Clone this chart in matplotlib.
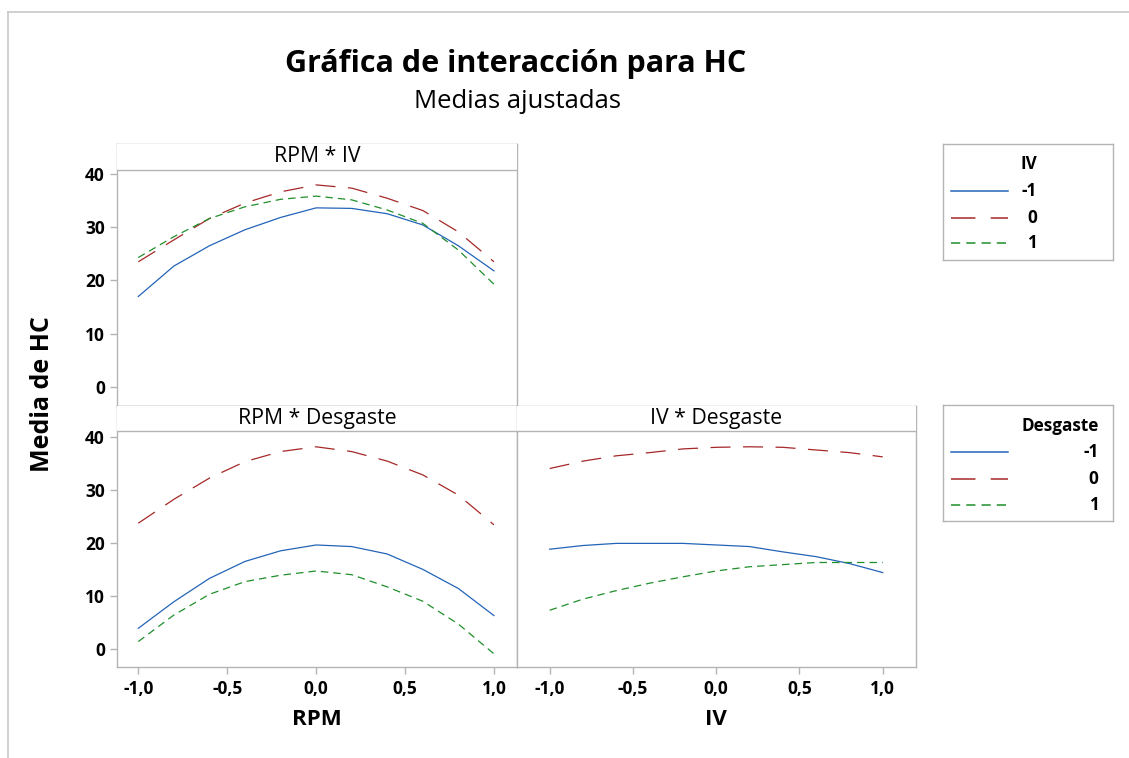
import numpy as np
import matplotlib
matplotlib.use("Agg")
import matplotlib.pyplot as plt
from matplotlib.patches import Rectangle
from matplotlib.lines import Line2D

plt.rcParams['font.family'] = ['Open Sans', 'DejaVu Sans']

# fitted means
x_levels = [-1.0, -0.8, -0.6, -0.4, -0.2, 0.0, 0.2, 0.4, 0.6, 0.8, 1.0]

# RPM * IV  (IV = -1, 0, 1)
rpm_iv_m1 = [17.0, 22.7, 26.5, 29.5, 31.8, 33.6, 33.5, 32.5, 30.4, 26.5, 21.8]
rpm_iv_0 = [23.5, 27.6, 31.6, 34.5, 36.6, 37.9, 37.3, 35.4, 33.1, 29.1, 23.5]
rpm_iv_1 = [24.3, 28.2, 31.6, 33.8, 35.2, 35.8, 35.1, 33.2, 30.7, 25.7, 19.3]

# RPM * Desgaste  (Desgaste = -1, 0, 1)
rpm_des_m1 = [3.9, 8.9, 13.3, 16.5, 18.5, 19.6, 19.3, 17.9, 15.0, 11.4, 6.3]
rpm_des_0 = [23.7, 28.2, 32.2, 35.3, 37.2, 38.1, 37.2, 35.4, 32.8, 29.0, 23.4]
rpm_des_1 = [1.4, 6.4, 10.3, 12.7, 13.9, 14.7, 14.0, 11.7, 9.0, 4.7, -0.9]

# IV * Desgaste
iv_des_m1 = [18.8, 19.5, 19.9, 19.9, 19.9, 19.6, 19.3, 18.3, 17.4, 16.1, 14.4]
iv_des_0 = [34.0, 35.4, 36.4, 37.0, 37.7, 38.0, 38.1, 38.0, 37.5, 37.0, 36.2]
iv_des_1 = [7.3, 9.4, 11.0, 12.4, 13.6, 14.7, 15.5, 15.9, 16.3, 16.3, 16.3]

level_labels = ['-1', '0', '1']
y_ticks = [0, 10, 20, 30, 40]
x_ticks = [-1.0, -0.5, 0.0, 0.5, 1.0]
x_ticklabels = ['-1,0', '-0,5', '0,0', '0,5', '1,0']

colors = ['#2364B8', '#A52828', '#1F8F2A']
styles = [dict(linestyle='-'),
          dict(linestyle=(0, (16, 10))),
          dict(linestyle=(0, (6, 4)))]
frame_col = '#b4b4b4'

W, H = 1129, 758
fig = plt.figure(figsize=(W / 100, H / 100), dpi=100)


def px_axes(left, top, right, bottom):
    return fig.add_axes([left / W, 1 - bottom / H, (right - left) / W, (bottom - top) / H])


def style_panel(ax, title, strip_px, panel_h):
    for s in ax.spines.values():
        s.set_color(frame_col)
        s.set_linewidth(1.0)
    ax.tick_params(colors=frame_col, labelcolor='black', length=5, width=1,
                   labelsize=12.5, pad=4)
    for lab in ax.get_xticklabels() + ax.get_yticklabels():
        lab.set_fontweight('bold')
    frac = strip_px / panel_h
    ax.add_patch(Rectangle((0, 1 - frac), 1, frac, transform=ax.transAxes,
                           facecolor='white', edgecolor='none', zorder=3))
    ax.add_line(Line2D([0, 1], [1 - frac, 1 - frac], transform=ax.transAxes,
                       color=frame_col, lw=1.0, zorder=4))
    ax.text(0.5, 1 - frac / 2, title, transform=ax.transAxes, ha='center',
            va='center', fontsize=15.3, zorder=5)


def draw(ax, series):
    for vals, c, st in zip(series, colors, styles):
        ax.plot(x_levels, vals, color=c, lw=0.9, **st)


# top left: RPM * IV
ax1 = px_axes(117.3, 144, 516.7, 405.7)
draw(ax1, [rpm_iv_m1, rpm_iv_0, rpm_iv_1])
ax1.set_xlim(-1.118, 1.128)
ax1.set_ylim(-3.45, 45.56)
ax1.set_yticks(y_ticks)
ax1.set_xticks([])
style_panel(ax1, 'RPM * IV', 26, 261.7)

# bottom left: RPM * Desgaste
ax2 = px_axes(117.3, 405.7, 516.7, 667)
draw(ax2, [rpm_des_m1, rpm_des_0, rpm_des_1])
ax2.set_xlim(-1.118, 1.128)
ax2.set_ylim(-3.39, 45.84)
ax2.set_yticks(y_ticks)
ax2.set_xticks(x_ticks)
ax2.set_xticklabels(x_ticklabels)
style_panel(ax2, 'RPM * Desgaste', 25, 261.3)
ax2.set_xlabel('RPM', fontsize=16, fontweight='bold', labelpad=8)

# bottom right: IV * Desgaste
ax3 = px_axes(516.7, 405.7, 915.7, 667)
draw(ax3, [iv_des_m1, iv_des_0, iv_des_1])
ax3.set_xlim(-1.198, 1.198)
ax3.set_ylim(-3.39, 45.84)
ax3.set_yticks([])
ax3.set_xticks(x_ticks)
ax3.set_xticklabels(x_ticklabels)
style_panel(ax3, 'IV * Desgaste', 25, 261.3)
ax3.set_xlabel('IV', fontsize=16, fontweight='bold', labelpad=8)

# titles and shared y label
fig.text(516 / W, 1 - 64 / H, 'Gráfica de interacción para HC', ha='center',
         va='center', fontsize=22, fontweight='bold')
fig.text(517 / W, 1 - 101 / H, 'Medias ajustadas', ha='center', va='center',
         fontsize=18.5)
fig.text(43 / W, 1 - 394 / H, 'Media de HC', ha='center', va='center',
         rotation=90, fontsize=18, fontweight='bold')


# legends drawn as boxes in pixel space
def legend_box(top, bottom, title, title_y, rows_y, text_right):
    lax = px_axes(943.3, top, 1112.7, bottom)
    lax.set_xlim(943.3, 1112.7)
    lax.set_ylim(bottom, top)
    lax.set_xticks([])
    lax.set_yticks([])
    for s in lax.spines.values():
        s.set_color(frame_col)
        s.set_linewidth(1.0)
    lax.text(text_right, title_y, title, ha='right', va='center',
             fontsize=12.3, fontweight='bold')
    for y, lab, c, st in zip(rows_y, level_labels, colors, styles):
        lax.plot([950.7, 1008.3], [y, y], color=c, lw=1.1, **st)
        lax.text(text_right, y, lab, ha='right', va='center', fontsize=12.3,
                 fontweight='bold')


legend_box(144, 260, 'IV', 164, [191, 218, 243], 1037)
legend_box(405.3, 521, 'Desgaste', 426, [451.7, 479, 505], 1098.5)

# outer frame lines (top and left)
fig.add_artist(Line2D([8 / W, 1], [1 - 12 / H, 1 - 12 / H], color='#c8c8c8', lw=1.2))
fig.add_artist(Line2D([8 / W, 8 / W], [0, 1 - 12 / H], color='#c8c8c8', lw=1.2))

fig.savefig('out.png', dpi=100)
